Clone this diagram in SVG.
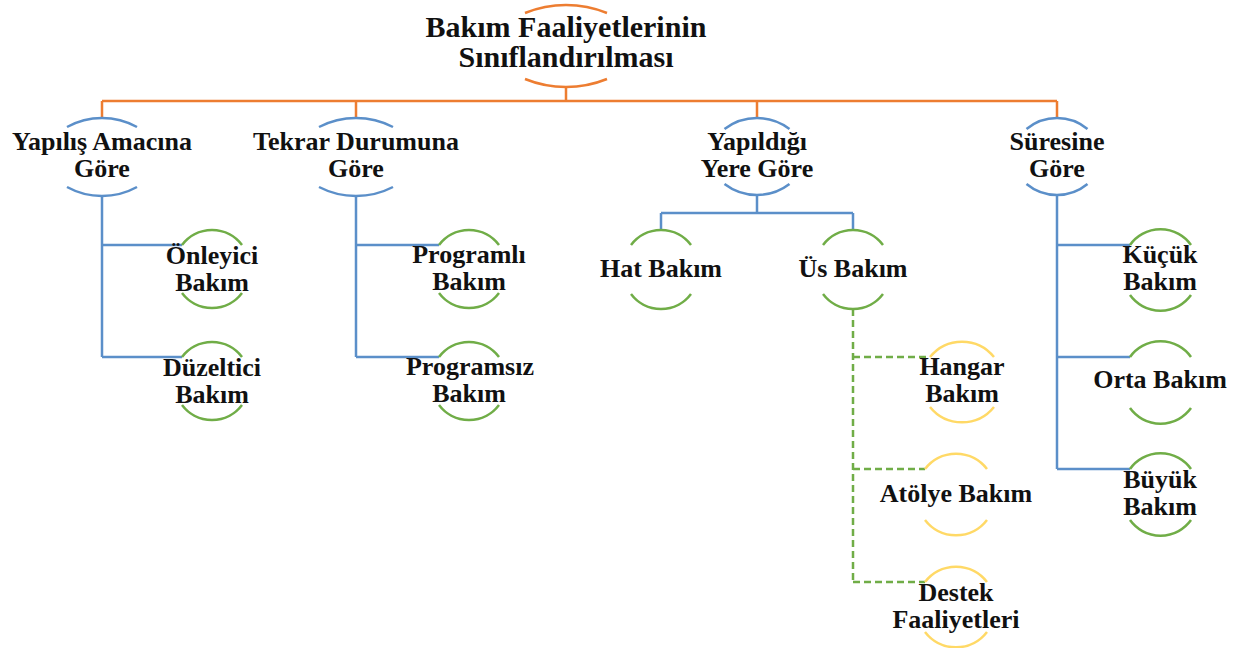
<svg xmlns="http://www.w3.org/2000/svg" width="1237" height="648" viewBox="0 0 1237 648">
<style>
  text { font-family: "Liberation Serif", "DejaVu Serif", serif; font-weight: bold; fill: #111; text-anchor: middle; }
  .t1 { font-size: 30px; }
  .t2 { font-size: 26px; }
  .arc { fill: none; stroke-width: 2.5; stroke-linecap: butt; }
  .or { stroke: #ED7D31; }
  .bl { stroke: #5B8FC9; }
  .gr { stroke: #70AD47; }
  .ye { stroke: #FFD966; }
  .ln { fill: none; stroke-width: 2.5; }
  .dash { stroke-dasharray: 7 4; }
</style>
<rect width="1237" height="648" fill="#ffffff"/>
<g id="connectors">
  <path class="ln or" d="M566,87 V101 M102,101 H1057 M102,101 V118 M356,101 V118 M757,101 V118 M1057,101 V118"/>
  <path class="ln bl" d="M102,196 V357 M102,245 H182 M102,357 H182"/>
  <path class="ln bl" d="M356,196 V357 M356,245 H439 M356,357 H439"/>
  <path class="ln bl" d="M757,196 V213 M661,213 H853 M661,213 V230 M853,213 V230"/>
  <path class="ln gr dash" d="M853,309 V582 M853,357 H930 M853,469 H925 M853,582 H925"/>
  <path class="ln bl" d="M1057,196 V469 M1057,245 H1130 M1057,357 H1130 M1057,469 H1130"/>
</g>
<g id="root">
  <path class="arc or" d="M525,13 A109 109 0 0 1 607,13"/>
  <path class="arc or" d="M525,79 A109 109 0 0 0 607,79"/>
  <text class="t1" x="566" y="37">Bakım Faaliyetlerinin</text>
  <text class="t1" x="566" y="67">Sınıflandırılması</text>
</g>
<g id="yapilis-amacina-gore">
  <path class="arc bl" d="M67,127 A72.6 72.6 0 0 1 137,127"/>
  <path class="arc bl" d="M67,187 A72.6 72.6 0 0 0 137,187"/>
  <text class="t2" x="102" y="150">Yapılış Amacına</text>
  <text class="t2" x="102" y="177">Göre</text>
</g>
<g id="tekrar-durumuna-gore">
  <path class="arc bl" d="M319,127 A80.6 80.6 0 0 1 393,127"/>
  <path class="arc bl" d="M319,187 A80.6 80.6 0 0 0 393,187"/>
  <text class="t2" x="356" y="150">Tekrar Durumuna</text>
  <text class="t2" x="356" y="177">Göre</text>
</g>
<g id="yapildigi-yere-gore">
  <path class="arc bl" d="M724.5,129 A53.5 53.5 0 0 1 789.5,129"/>
  <path class="arc bl" d="M724.5,184 A53.5 53.5 0 0 0 789.5,184"/>
  <text class="t2" x="757" y="150">Yapıldığı</text>
  <text class="t2" x="757" y="177">Yere Göre</text>
</g>
<g id="suresine-gore">
  <path class="arc bl" d="M1026.5,129 A47.8 47.8 0 0 1 1087.5,129"/>
  <path class="arc bl" d="M1026.5,184 A47.8 47.8 0 0 0 1087.5,184"/>
  <text class="t2" x="1057" y="150">Süresine</text>
  <text class="t2" x="1057" y="177">Göre</text>
</g>
<g id="onleyici-bakim">
  <path class="arc gr" d="M182,245 A37.5 37.5 0 0 1 242,245"/>
  <path class="arc gr" d="M182,293 A37.5 37.5 0 0 0 242,293"/>
  <text class="t2" x="212" y="264">Önleyici</text>
  <text class="t2" x="212" y="291">Bakım</text>
</g>
<g id="duzeltici-bakim">
  <path class="arc gr" d="M182,357 A37.5 37.5 0 0 1 242,357"/>
  <path class="arc gr" d="M182,405 A37.5 37.5 0 0 0 242,405"/>
  <text class="t2" x="212" y="376">Düzeltici</text>
  <text class="t2" x="212" y="403">Bakım</text>
</g>
<g id="programli-bakim">
  <path class="arc gr" d="M439,245 A37.5 37.5 0 0 1 499,245"/>
  <path class="arc gr" d="M439,293 A37.5 37.5 0 0 0 499,293"/>
  <text class="t2" x="469" y="263">Programlı</text>
  <text class="t2" x="469" y="290">Bakım</text>
</g>
<g id="programsiz-bakim">
  <path class="arc gr" d="M439,357 A37.5 37.5 0 0 1 499,357"/>
  <path class="arc gr" d="M439,405 A37.5 37.5 0 0 0 499,405"/>
  <text class="t2" x="470" y="375">Programsız</text>
  <text class="t2" x="469" y="402">Bakım</text>
</g>
<g id="hat-bakim">
  <path class="arc gr" d="M631,245 A37.5 37.5 0 0 1 691,245"/>
  <path class="arc gr" d="M631,294 A37.5 37.5 0 0 0 691,294"/>
  <text class="t2" x="661" y="277">Hat Bakım</text>
</g>
<g id="us-bakim">
  <path class="arc gr" d="M823,245 A37.5 37.5 0 0 1 883,245"/>
  <path class="arc gr" d="M823,294 A37.5 37.5 0 0 0 883,294"/>
  <text class="t2" x="853" y="277">Üs Bakım</text>
</g>
<g id="hangar-bakim">
  <path class="arc ye" d="M930,357 A41 41 0 0 1 994,357"/>
  <path class="arc ye" d="M930,407 A41 41 0 0 0 994,407"/>
  <text class="t2" x="962" y="375">Hangar</text>
  <text class="t2" x="962" y="402">Bakım</text>
</g>
<g id="atolye-bakim">
  <path class="arc ye" d="M925,469 A39 39 0 0 1 987,469"/>
  <path class="arc ye" d="M925,520 A39 39 0 0 0 987,520"/>
  <text class="t2" x="956" y="502">Atölye Bakım</text>
</g>
<g id="destek-faaliyetleri">
  <path class="arc ye" d="M925,582 A39 39 0 0 1 987,582"/>
  <path class="arc ye" d="M925,632 A39 39 0 0 0 987,632"/>
  <text class="t2" x="956" y="601">Destek</text>
  <text class="t2" x="956" y="628">Faaliyetleri</text>
</g>
<g id="kucuk-bakim">
  <path class="arc gr" d="M1130,245 A37.5 37.5 0 0 1 1191,245"/>
  <path class="arc gr" d="M1130,295 A37.5 37.5 0 0 0 1191,295"/>
  <text class="t2" x="1160" y="263">Küçük</text>
  <text class="t2" x="1160" y="290">Bakım</text>
</g>
<g id="orta-bakim">
  <path class="arc gr" d="M1130,357 A37.5 37.5 0 0 1 1191,357"/>
  <path class="arc gr" d="M1130,408 A37.5 37.5 0 0 0 1191,408"/>
  <text class="t2" x="1160" y="388">Orta Bakım</text>
</g>
<g id="buyuk-bakim">
  <path class="arc gr" d="M1130,469 A37.5 37.5 0 0 1 1191,469"/>
  <path class="arc gr" d="M1130,520 A37.5 37.5 0 0 0 1191,520"/>
  <text class="t2" x="1160" y="488">Büyük</text>
  <text class="t2" x="1160" y="515">Bakım</text>
</g>
</svg>
